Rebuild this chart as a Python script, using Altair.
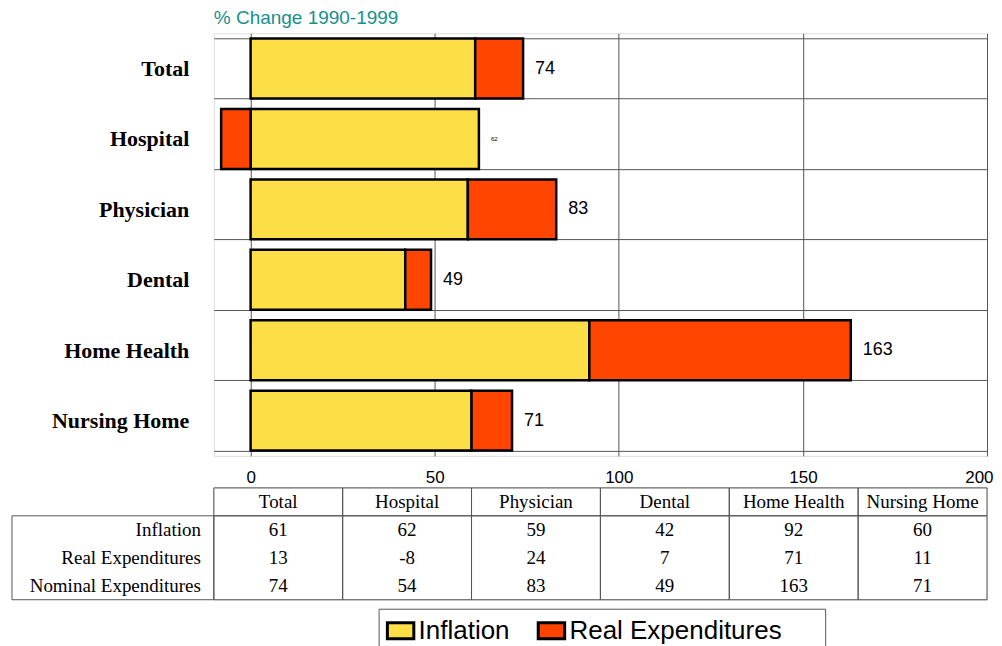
import altair as alt
import pandas as pd

# ---------------- data ----------------
categories = ["Total", "Hospital", "Physician", "Dental", "Home Health", "Nursing Home"]
inflation = [61, 62, 59, 42, 92, 60]
real_exp = [13, -8, 24, 7, 71, 11]
nominal = [74, 54, 83, 49, 163, 71]
bar_labels = ["74", "62", "83", "49", "163", "71"]
series = ["Inflation", "Real Expenditures"]
table_rows = ["Inflation", "Real Expenditures", "Nominal Expenditures"]
x_ticks = [0, 50, 100, 150, 200]
title_text = "% Change 1990-1999"

# ---------------- styles ----------------
YELLOW = "#FCDE47"
ORANGE = "#FF4500"
GRID = "#555555"
TEAL = "#178F8F"
SANS = "Liberation Sans"
SERIF = "Liberation Serif"
LABEL_COL = 1.566  # width of the table's row-label column, in column units
# invisible trailing filler that widens the legend box on its right side
LEGEND_FILL = "\u00a0" * 5 + "\u200b"

# ---------------- tables ----------------
bar_rows = []
for c, a, b in zip(categories, inflation, real_exp):
    bar_rows.append({"category": c, "series": series[0], "value": a, "ord": 0})
    bar_rows.append({"category": c, "series": series[1], "value": b, "ord": 1})
bar_df = pd.DataFrame(bar_rows)

lab_df = pd.DataFrame({
    "category": categories,
    "end": [a + max(b, 0) for a, b in zip(inflation, real_exp)],
    "label": bar_labels,
})

# data table cells
cell_rows = []
for i in range(len(categories)):
    cell_rows.append({"x0": i, "x1": i + 1, "y0": 0, "y1": 1})
    cell_rows.append({"x0": i, "x1": i + 1, "y0": 1, "y1": 1 + len(table_rows)})
cell_rows.append({"x0": -LABEL_COL, "x1": 0, "y0": 1, "y1": 1 + len(table_rows)})
cell_df = pd.DataFrame(cell_rows)

txt_rows = []
for i, c in enumerate(categories):
    txt_rows.append({"xc": i + 0.5, "yc": 0.5, "text": c})
    for r, vals in enumerate([inflation, real_exp, nominal]):
        txt_rows.append({"xc": i + 0.5, "yc": r + 1.5, "text": str(vals[i])})
txt_df = pd.DataFrame(txt_rows)
rowlab_df = pd.DataFrame({"xc": [-0.1] * len(table_rows),
                          "yc": [r + 1.5 for r in range(len(table_rows))],
                          "text": table_rows})

# ---------------- main chart ----------------
y_enc = alt.Y(
    "category:N", sort=categories, title=None,
    scale=alt.Scale(paddingInner=0.15, paddingOuter=0.075),
    axis=alt.Axis(labelFont=SERIF, labelFontSize=22, labelFontWeight="bold",
                  labelColor="black", labelPadding=25, ticks=False, domain=False,
                  grid=True, tickBand="extent", gridColor=GRID, gridWidth=1),
)
x_scale = alt.Scale(domain=[-10, 200], nice=False, zero=False)

legend_expr = "datum.label + (datum.value == '%s' ? '%s' : '')" % (series[1], LEGEND_FILL)

bars = alt.Chart(bar_df).mark_bar(stroke="black", strokeWidth=2.5).encode(
    x=alt.X("value:Q", stack="zero", scale=x_scale, title=None,
            axis=alt.Axis(values=x_ticks, ticks=False, domain=False, grid=True,
                          gridColor=GRID, gridWidth=1, labelFont=SANS,
                          labelFontSize=17, labelColor="black", labelPadding=14,
                          labelFlush=True, labelFlushOffset=6)),
    y=y_enc,
    color=alt.Color("series:N", scale=alt.Scale(domain=series, range=[YELLOW, ORANGE]),
                    legend=alt.Legend(title=None, orient="none", legendX=165, legendY=576,
                                      direction="horizontal",
                                      symbolType="M-1,-0.6H1V0.6H-1Z", symbolSize=700,
                                      symbolStrokeColor="black", symbolStrokeWidth=3,
                                      labelFont=SANS, labelFontSize=26, labelColor="black",
                                      labelOffset=3, labelLimit=500, labelExpr=legend_expr,
                                      columnPadding=21, padding=7,
                                      strokeColor=GRID, symbolOpacity=1)),
    order=alt.Order("ord:Q"),
)

labels = alt.Chart(lab_df).mark_text(align="left", baseline="middle", dx=12,
                                     font=SANS, color="black").encode(
    x=alt.X("end:Q", scale=x_scale),
    y=alt.Y("category:N", sort=categories),
    text="label:N",
    size=alt.condition(alt.datum.category == "Hospital", alt.value(6), alt.value(18)),
)

main = alt.layer(bars, labels).properties(
    width=774, height=423,
    title=alt.Title(title_text, anchor="start", frame="group", font=SANS, fontSize=19,
                    fontWeight="normal", color=TEAL, offset=-6),
)

# ---------------- data table ----------------
tx = alt.Scale(domain=[0, len(categories)], nice=False, zero=False)
ty = alt.Scale(domain=[0, 1 + len(table_rows)], nice=False, zero=False, reverse=True)

cells = alt.Chart(cell_df).mark_rect(fill="transparent", stroke=GRID, strokeWidth=1).encode(
    x=alt.X("x0:Q", scale=tx, axis=None), x2="x1:Q",
    y=alt.Y("y0:Q", scale=ty, axis=None), y2="y1:Q",
)
cell_text = alt.Chart(txt_df).mark_text(font=SERIF, fontSize=19, color="black",
                                        baseline="middle", align="center").encode(
    x=alt.X("xc:Q", scale=tx, axis=None),
    y=alt.Y("yc:Q", scale=ty, axis=None),
    text="text:N",
)
row_text = alt.Chart(rowlab_df).mark_text(font=SERIF, fontSize=19, color="black",
                                          baseline="middle", align="right").encode(
    x=alt.X("xc:Q", scale=tx, axis=None),
    y=alt.Y("yc:Q", scale=ty, axis=None),
    text="text:N",
)
table = alt.layer(cells, cell_text, row_text).properties(width=774, height=112)

chart = alt.vconcat(main, table, spacing=0).properties(
    padding={"left": 2, "top": 0, "right": 0, "bottom": 0}
).configure_view(stroke=GRID, strokeWidth=1).configure(background="white")

chart.save("out.html", embed_options={"renderer": "svg", "actions": False})
